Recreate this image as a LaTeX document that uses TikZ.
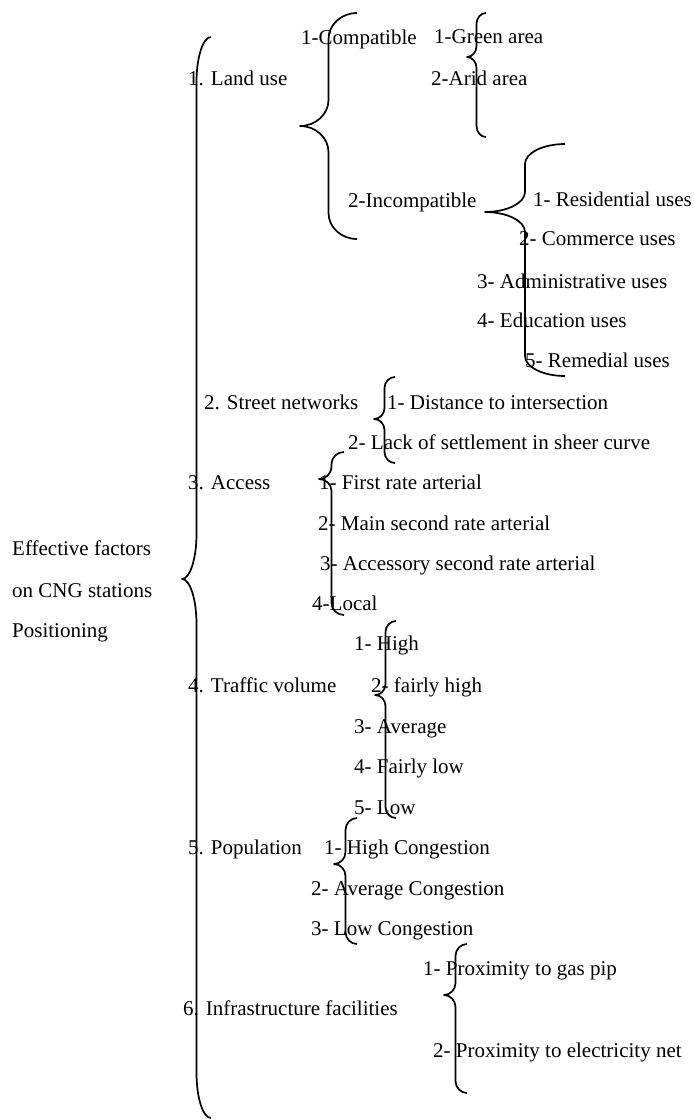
\documentclass[tikz,border=0pt]{standalone}
\usepackage{fontspec}
\setmainfont{Liberation Serif}

% left curly brace: tip x, top y, cusp y, bottom y, depth, curl height
\newcommand{\curlybrace}[6]{%
  \draw[curl] (#1,#2) .. controls ({#1-0.55*#5/2},#2) and ({#1-#5/2},{#2+0.45*#6}) .. ({#1-#5/2},{#2+#6})
    -- ({#1-#5/2},{#3-#6}) .. controls ({#1-#5/2},{#3-0.45*#6}) and ({#1-#5+0.55*#5/2},#3) .. ({#1-#5},#3)
    .. controls ({#1-#5+0.55*#5/2},#3) and ({#1-#5/2},{#3+0.45*#6}) .. ({#1-#5/2},{#3+#6})
    -- ({#1-#5/2},{#4-#6}) .. controls ({#1-#5/2},{#4-0.45*#6}) and ({#1-0.55*#5/2},#4) .. (#1,#4);
}

\begin{document}
\begin{tikzpicture}[
        x=1pt, y=-1pt,
        item/.style={anchor=base west, inner sep=0pt, font=\fontsize{21}{25}\selectfont},
        curl/.style={line width=1.7pt, line join=round}
    ]
    \useasboundingbox (0,0) rectangle (695,1120);

    % Goal
    \node[item] (goal1) at (12,555) {Effective factors};
    \node[item] (goal2) at (12,597) {on CNG stations};
    \node[item] (goal3) at (12,637) {Positioning};

    % Main brace
    \curlybrace{211}{37}{579}{1118}{29}{45}

    % Land use
    \node[item] (land) at (188,85) {1. Land use};
    \node[item] (compat) at (301,44) {1-Compatible};
    \node[item] (green) at (434,43) {1-Green area};
    \node[item] (arid) at (431,85) {2-Arid area};
    \node[item] (incompat) at (348,207) {2-Incompatible};
    \node[item] (resid) at (533,206) {1- Residential uses};
    \node[item] (comm) at (519,245) {2- Commerce uses};
    \node[item] (admin) at (477,288) {3- Administrative uses};
    \node[item] (educ) at (477,327) {4- Education uses};
    \node[item] (remed) at (525,367) {5- Remedial uses};
    \curlybrace{357}{13}{126}{239}{57}{26}
    \curlybrace{486}{13}{57}{137}{19}{11}
    \curlybrace{565}{144}{212}{376}{80}{20}

    % Street networks
    \node[item] (street) at (204,409) {2. Street networks};
    \node[item] (dist) at (387,409) {1- Distance to intersection};
    \node[item] (lack) at (348,449) {2- Lack of settlement in sheer curve};
    \curlybrace{395}{377}{419}{463}{21}{11}

    % Access
    \node[item] (access) at (188,489) {3. Access};
    \node[item] (first) at (319,489) {1- First rate arterial};
    \node[item] (mainsec) at (318,530) {2- Main second rate arterial};
    \node[item] (accessory) at (320,570) {3- Accessory second rate arterial};
    \node[item] (local) at (312,610) {4-Local};
    \curlybrace{344}{452}{479}{615}{25}{12}

    % Traffic volume
    \node[item] (traffic) at (188,692) {4. Traffic volume};
    \node[item] (high) at (354,650) {1- High};
    \node[item] (fhigh) at (371,692) {2- fairly high};
    \node[item] (avg) at (354,733) {3- Average};
    \node[item] (flow) at (354,773) {4- Fairly low};
    \node[item] (low) at (354,814) {5- Low};
    \curlybrace{396}{621}{695}{818}{21}{11}

    % Population
    \node[item] (pop) at (188,854) {5. Population};
    \node[item] (hcong) at (324,854) {1- High Congestion};
    \node[item] (acong) at (311,895) {2- Average Congestion};
    \node[item] (lcong) at (311,935) {3- Low Congestion};
    \curlybrace{357}{818}{864}{944}{23}{12}

    % Infrastructure facilities
    \node[item] (infra) at (183,1015) {6. Infrastructure facilities};
    \node[item] (gas) at (423,975) {1- Proximity to gas pip};
    \node[item] (elec) at (433,1057) {2- Proximity to electricity net};
    \curlybrace{467}{944}{995}{1093}{23}{12}

\end{tikzpicture}
\end{document}
